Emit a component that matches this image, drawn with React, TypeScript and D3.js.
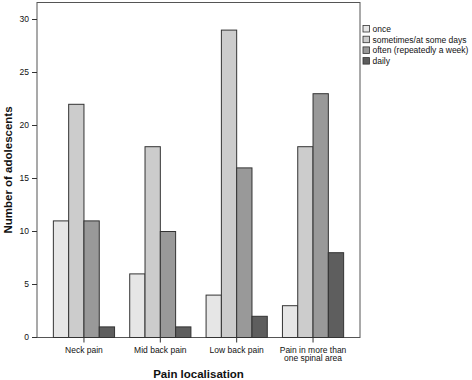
import React from "react";
import * as d3 from "d3";

const categories = ["Neck pain", "Mid back pain", "Low back pain", "Pain in more than|one spinal area"];
const seriesNames = ["once", "sometimes/at some days", "often (repeatedly a week)", "daily"];
const onceVals = [11, 6, 4, 3];
const sometimesVals = [22, 18, 29, 18];
const oftenVals = [11, 10, 16, 23];
const dailyVals = [1, 1, 2, 8];
const yTicks = [0, 5, 10, 15, 20, 25, 30];
const colors = ["#e6e6e6", "#cccccc", "#999999", "#5e5e5e"];

const W = 472, H = 380;
const left = 37, right = 360, top = 2.5, bottom = 337.5;
const font = "Arial, 'Liberation Sans', Helvetica, sans-serif";

export default function App() {
  const series = [onceVals, sometimesVals, oftenVals, dailyVals];
  const x = d3.scalePoint<string>().domain(categories).range([left, right]).padding(0.615);
  const y = d3.scaleLinear().domain([0, 30]).range([bottom, 19.5]);
  const barW = 15.3;
  const inner = d3.scaleBand<number>().domain([0, 1, 2, 3]).range([-2 * barW, 2 * barW]);
  return (
    <svg width={W} height={H} style={{ position: "absolute", left: 0, top: 0, background: "#fff" }} fontFamily={font}>
      <rect x={left} y={top} width={right - left} height={bottom - top} fill="#fff" stroke="#555" strokeWidth={1} />
      {categories.map((c, ci) =>
        series.map((vals, si) => {
          const x0 = (x(c) as number) + (inner(si) as number);
          return (
            <rect key={c + si} x={x0} y={y(vals[ci])} width={inner.bandwidth()} height={y(0) - y(vals[ci])}
              fill={colors[si]} stroke="#333" strokeWidth={1} />
          );
        })
      )}
      {yTicks.map((t) => (
        <g key={t}>
          <line x1={left - 5} x2={left} y1={y(t)} y2={y(t)} stroke="#333" />
          <text x={left - 8} y={y(t)} dy="0.35em" textAnchor="end" fontSize={8.5} fill="#111">{t}</text>
        </g>
      ))}
      {categories.map((c) => {
        const lines = c.split("|");
        return (
          <g key={c}>
            <line x1={x(c)} x2={x(c)} y1={bottom} y2={bottom + 5} stroke="#333" />
            {lines.map((l, i) => (
              <text key={i} x={x(c)} y={350 + i * 8.5} dy="0.35em" textAnchor="middle" fontSize={8.5} fill="#111">{l}</text>
            ))}
          </g>
        );
      })}
      <text x={(left + right) / 2} y={374} dy="0.35em" textAnchor="middle" fontSize={11.5} fontWeight="bold" fill="#111">Pain localisation</text>
      <text transform={`translate(8,170) rotate(-90)`} dy="0.35em" textAnchor="middle" fontSize={11.5} fontWeight="bold" fill="#111">Number of adolescents</text>
      {seriesNames.map((s, i) => (
        <g key={s}>
          <rect x={363} y={25.5 + i * 10.7} width={6.5} height={6.5} fill={colors[i]} stroke="#333" strokeWidth={0.8} />
          <text x={372.5} y={29 + i * 10.7} dy="0.35em" fontSize={8.5} fill="#111">{s}</text>
        </g>
      ))}
    </svg>
  );
}
